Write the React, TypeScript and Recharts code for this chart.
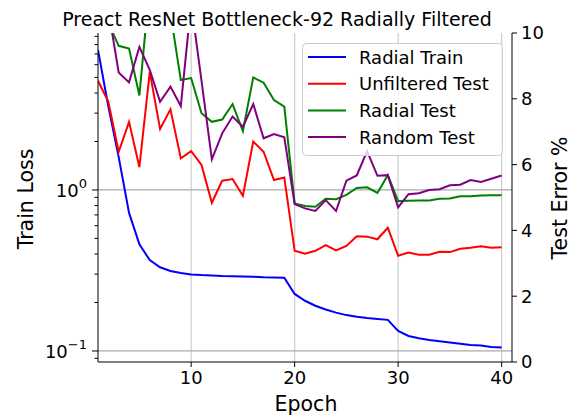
import React from "react";
import { ComposedChart, Line, XAxis, YAxis, ReferenceLine } from "recharts";

const epochs = [1, 2, 3, 4, 5, 6, 7, 8, 9, 10, 11, 12, 13, 14, 15, 16, 17, 18, 19, 20, 21, 22, 23, 24, 25, 26, 27, 28, 29, 30, 31, 32, 33, 34, 35, 36, 37, 38, 39, 40];

const radialTrain = [7.4, 3.3, 1.6, 0.72, 0.46, 0.367, 0.331, 0.314, 0.305, 0.299, 0.296, 0.294, 0.292, 0.291, 0.29, 0.289, 0.287, 0.286, 0.285, 0.226, 0.205, 0.191, 0.181, 0.173, 0.167, 0.163, 0.16, 0.158, 0.156, 0.133, 0.124, 0.12, 0.117, 0.115, 0.113, 0.111, 0.109, 0.108, 0.106, 0.105];
const unfilteredTest = [8.55, 7.91, 6.39, 7.3, 5.92, 8.82, 7.08, 7.68, 6.19, 6.41, 5.99, 4.84, 5.51, 5.56, 5.05, 6.7, 6.39, 5.53, 5.61, 3.38, 3.29, 3.38, 3.55, 3.39, 3.53, 3.82, 3.81, 3.73, 4.08, 3.23, 3.33, 3.26, 3.26, 3.35, 3.34, 3.44, 3.47, 3.52, 3.47, 3.49];
const radialTest = [12.5, 10.3, 9.61, 9.53, 8.1, 11.5, 12.0, 10.6, 8.57, 8.63, 7.56, 7.3, 7.37, 7.84, 7.02, 8.65, 8.49, 7.96, 7.76, 4.82, 4.74, 4.72, 4.96, 4.95, 5.08, 5.29, 5.31, 5.14, 5.68, 4.89, 4.9, 4.91, 4.91, 4.96, 4.97, 5.04, 5.04, 5.06, 5.07, 5.07];
const randomTest = [13.0, 10.7, 8.8, 8.5, 9.58, 8.88, 7.91, 8.37, 7.78, 10.9, 8.55, 6.16, 6.95, 7.46, 7.15, 7.84, 6.8, 6.93, 6.83, 4.8, 4.67, 4.59, 4.92, 4.59, 5.51, 5.67, 6.41, 5.66, 5.68, 4.7, 5.1, 5.13, 5.23, 5.25, 5.37, 5.39, 5.53, 5.47, 5.57, 5.67];

const xTicks = [10, 20, 30, 40];
const lossTicks = [0.09, 0.1, 0.2, 0.3, 0.4, 0.5, 0.6, 0.7, 0.8, 0.9, 1, 2, 3, 4, 5, 6, 7, 8, 9];
const lossMajors = [0.1, 1];
const errorTicks = [0, 2, 4, 6, 8, 10];

const seriesNames = ["Radial Train", "Unfiltered Test", "Radial Test", "Random Test"];
const seriesKeys = ["radialTrain", "unfilteredTest", "radialTest", "randomTest"];
const seriesColors = ["#0000ff", "#ff0000", "#008000", "#800080"];

const data = epochs.map((epoch, i) => ({
    epoch,
    radialTrain: radialTrain[i],
    unfilteredTest: unfilteredTest[i],
    radialTest: radialTest[i],
    randomTest: randomTest[i],
}));

const FONT = "DejaVu Sans, Liberation Sans, sans-serif";

// log axis: long ticks + "10^n" at decades, short ticks elsewhere
function LossTick(props: any) {
    const { x, y, payload } = props;
    const v = payload.value;
    const major = lossMajors.includes(v);
    const exp = Math.round(Math.log10(v));
    return (
        <g>
            <line x1={x} x2={x - (major ? 6 : 3.5)} y1={y} y2={y} stroke="#000" strokeWidth={1} />
            {major && (
                <text x={x - 11} y={y + 7} textAnchor="end" fontSize={18} fontFamily={FONT} fill="#000">
                    10
                    <tspan dy={-9} fontSize={13}>{exp === 0 ? "0" : "\u22121"}</tspan>
                </text>
            )}
        </g>
    );
}

export default function App() {
    const W = 574;
    const H = 417;
    return (
        <div style={{ position: "absolute", left: 0, top: 0, width: W, height: H, background: "#fff", fontFamily: FONT }}>
            <ComposedChart width={W} height={H} data={data} margin={{ top: 33, right: 0, bottom: 0, left: 0 }}>
                <XAxis
                    dataKey="epoch"
                    type="number"
                    domain={[1, 41]}
                    ticks={xTicks}
                    allowDataOverflow
                    height={55}
                    tickSize={5}
                    tickMargin={4}
                    stroke="#000"
                    tick={{ fontSize: 18, fill: "#000", fontFamily: FONT }}
                />
                <XAxis xAxisId="top" orientation="top" type="number" domain={[1, 41]} height={0} tick={false} tickLine={false} stroke="#000" />
                <YAxis
                    yAxisId="loss"
                    scale="log"
                    domain={[0.0854, 9.44]}
                    allowDataOverflow
                    ticks={lossTicks}
                    interval={0}
                    width={98}
                    tickSize={0}
                    tickMargin={0}
                    tickLine={false}
                    stroke="#000"
                    tick={<LossTick />}
                />
                <YAxis
                    yAxisId="err"
                    orientation="right"
                    domain={[0, 10]}
                    allowDataOverflow
                    ticks={errorTicks}
                    interval={0}
                    width={62}
                    tickSize={5}
                    tickMargin={4}
                    stroke="#000"
                    tick={{ fontSize: 18, fill: "#000", fontFamily: FONT }}
                />
                {xTicks.map((t) => (
                    <ReferenceLine key={"vx" + t} x={t} yAxisId="loss" stroke="#cccccc" strokeWidth={1.2} />
                ))}
                {lossMajors.map((t) => (
                    <ReferenceLine key={"hy" + t} y={t} yAxisId="loss" stroke="#aaaaaa" strokeWidth={1.2} />
                ))}
                <Line yAxisId="loss" dataKey="radialTrain" stroke={seriesColors[0]} strokeWidth={2} dot={false} isAnimationActive={false} />
                <Line yAxisId="err" dataKey="unfilteredTest" stroke={seriesColors[1]} strokeWidth={2} dot={false} isAnimationActive={false} />
                <Line yAxisId="err" dataKey="radialTest" stroke={seriesColors[2]} strokeWidth={2} dot={false} isAnimationActive={false} />
                <Line yAxisId="err" dataKey="randomTest" stroke={seriesColors[3]} strokeWidth={2} dot={false} isAnimationActive={false} />
            </ComposedChart>
            <svg width={W} height={H} style={{ position: "absolute", left: 0, top: 0, pointerEvents: "none" }}>
                <text x={277} y={26} textAnchor="middle" fontSize={19} fontFamily={FONT} fill="#000">
                    Preact ResNet Bottleneck-92 Radially Filtered
                </text>
                <text x={306} y={411} textAnchor="middle" fontSize={20.5} fontFamily={FONT} fill="#000">
                    Epoch
                </text>
                <text transform="translate(32.5,199) rotate(-90)" textAnchor="middle" fontSize={20.5} fontFamily={FONT} fill="#000">
                    Train Loss
                </text>
                <text transform="translate(567,198) rotate(-90)" textAnchor="middle" fontSize={20.5} fontFamily={FONT} fill="#000">
                    Test Error %
                </text>
                <g transform="translate(302,43)">
                    <rect x={0.5} y={0.5} width={200} height={112} rx={4} fill="rgba(255,255,255,0.8)" stroke="#cccccc" />
                    {seriesNames.map((name, i) => (
                        <g key={seriesKeys[i]} transform={`translate(0,${14 + i * 26.7})`}>
                            <line x1={6} x2={44} y1={0} y2={0} stroke={seriesColors[i]} strokeWidth={2} />
                            <text x={57} y={6.5} fontSize={18} fontFamily={FONT} fill="#000">
                                {name}
                            </text>
                        </g>
                    ))}
                </g>
            </svg>
        </div>
    );
}
